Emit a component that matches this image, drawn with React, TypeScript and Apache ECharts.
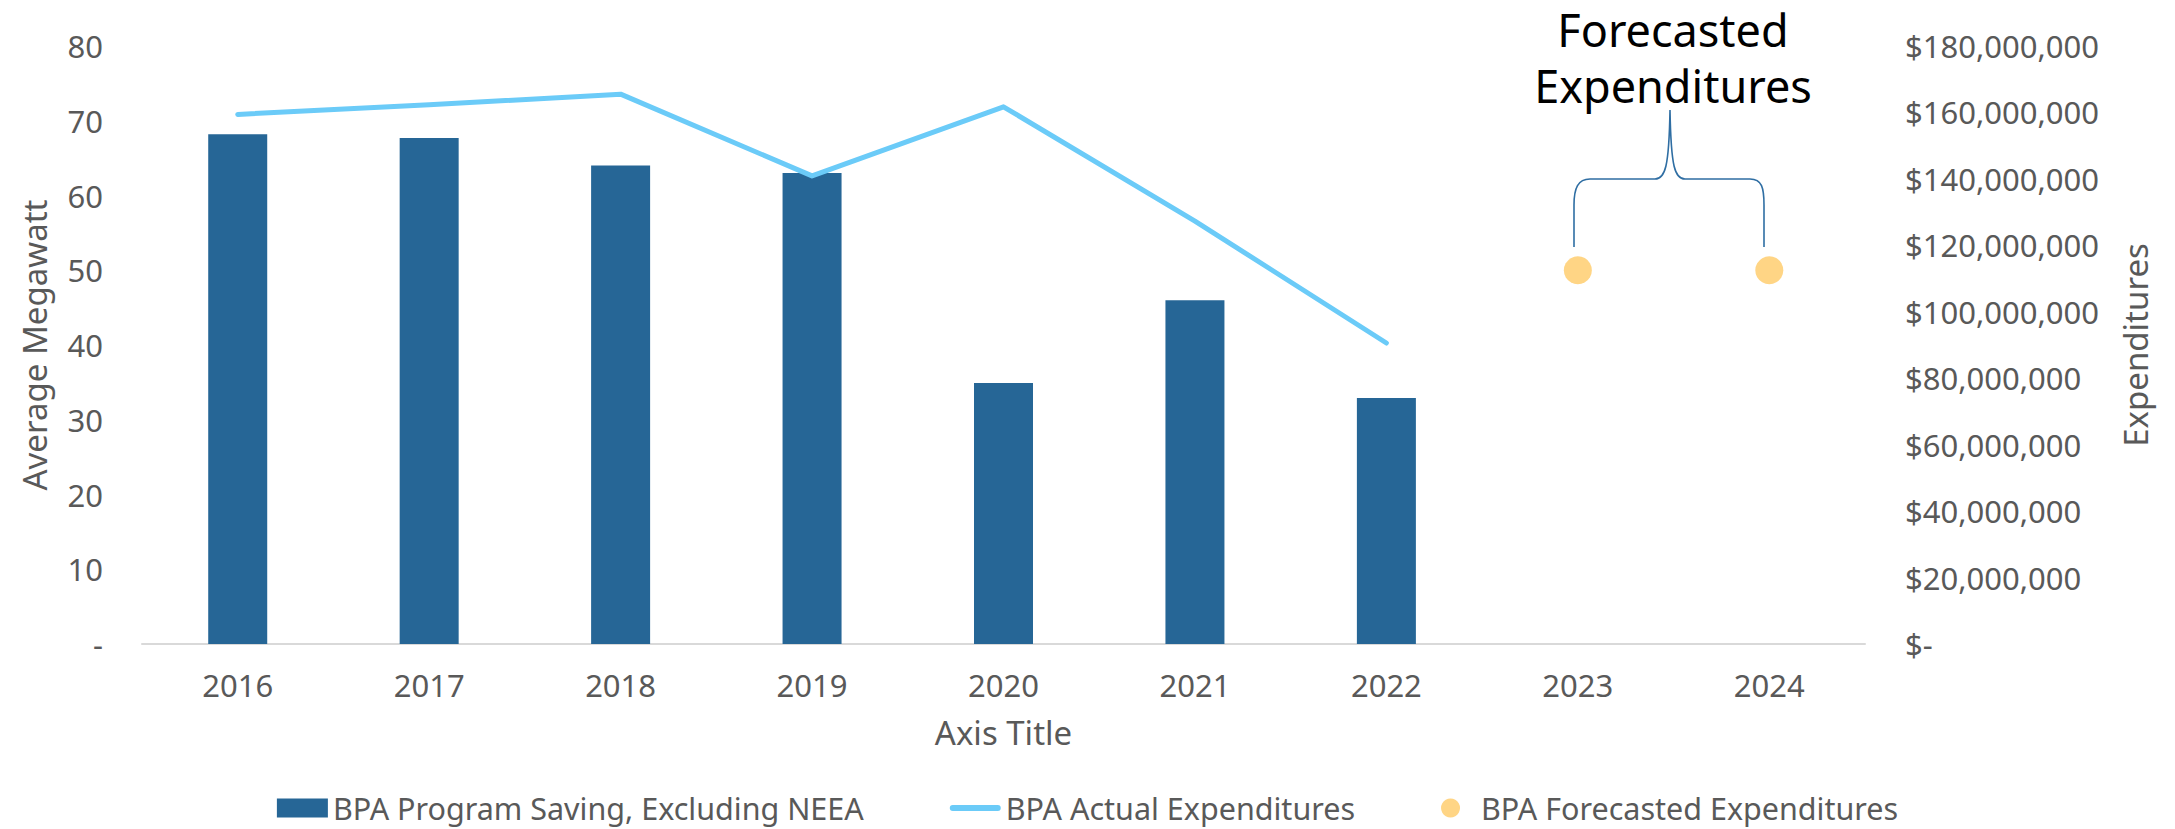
import React, { useEffect, useRef } from 'react';
import * as echarts from 'echarts';

// ---- data ----
const years = ['2016', '2017', '2018', '2019', '2020', '2021', '2022', '2023', '2024'];
const programSavingMW = [68.2, 67.7, 64.0, 63.0, 34.9, 46.0, 32.9, null, null];
const actualExpenditures = [159.4e6, 162.3e6, 165.5e6, 140.9e6, 161.7e6, 127.3e6, 90.6e6, null, null];
const forecastExpenditures = [null, null, null, null, null, null, null, 112.5e6, 112.5e6];
const leftAxisMax = 80;
const leftAxisStep = 10;
const rightAxisMax = 180e6;
const rightAxisStep = 20e6;
const seriesNames = ['BPA Program Saving, Excluding NEEA', 'BPA Actual Expenditures', 'BPA Forecasted Expenditures'];
const annotationLines = ['Forecasted', 'Expenditures'];

const BRACKET_D =
  'M1574 247 L1574 205 C1574 188 1578 179 1590 179 L1655 179 C1665 179 1669 168 1670 110 ' +
  'C1671 168 1675 179 1685 179 L1750 179 C1762 179 1764 188 1764 205 L1764 247';
echarts.graphic.registerShape('bracket', echarts.graphic.extendPath(BRACKET_D, {}));

const FONT = '"Noto Sans", "Open Sans", sans-serif';
const GREY = '#595959';

function fmtMoney(v: number) {
  if (v === 0) return '$-';
  return '$' + Math.round(v).toLocaleString('en-US');
}

export default function App() {
  const ref = useRef<HTMLDivElement>(null);
  useEffect(() => {
    if (!ref.current) return;
    const chart = echarts.init(ref.current, undefined, { renderer: 'svg' });
    chart.setOption({
      animation: false,
      backgroundColor: '#ffffff',
      textStyle: { fontFamily: FONT },
      grid: { left: 142, right: 310, top: 46, bottom: 185, containLabel: false },
      xAxis: {
        type: 'category',
        data: years,
        axisLine: { show: true, lineStyle: { color: '#D9D9D9', width: 2 } },
        axisTick: { show: false },
        axisLabel: { fontSize: 31, color: GREY, margin: 25, fontFamily: FONT },
        name: 'Axis Title',
        nameLocation: 'middle',
        nameGap: 72,
        nameTextStyle: { fontSize: 33, color: GREY, fontFamily: FONT },
      },
      yAxis: [
        {
          type: 'value',
          min: 0,
          max: leftAxisMax,
          interval: leftAxisStep,
          axisLine: { show: false },
          axisTick: { show: false },
          splitLine: { show: false },
          axisLabel: {
            fontSize: 31,
            color: GREY,
            margin: 39,
            fontFamily: FONT,
            formatter: (v: number) => (v === 0 ? '-' : String(v)),
          },
          name: 'Average Megawatt',
          nameLocation: 'middle',
          nameRotate: 90,
          nameGap: 91,
          nameTextStyle: { fontSize: 33, color: GREY, fontFamily: FONT },
        },
        {
          type: 'value',
          min: 0,
          max: rightAxisMax,
          interval: rightAxisStep,
          position: 'right',
          axisLine: { show: false },
          axisTick: { show: false },
          splitLine: { show: false },
          axisLabel: {
            fontSize: 31,
            color: GREY,
            margin: 40,
            fontFamily: FONT,
            formatter: (v: number) => fmtMoney(v),
          },
          name: 'Expenditures',
          nameLocation: 'middle',
          nameRotate: 90,
          nameGap: 254,
          nameTextStyle: { fontSize: 33, color: GREY, fontFamily: FONT },
        },
      ],
      legend: {
        top: 792,
        left: 'center',
        padding: 0,
        itemWidth: 51,
        itemHeight: 19,
        itemGap: 86,
        textStyle: { fontSize: 30.5, lineHeight: 32, color: GREY, fontFamily: FONT },
        data: [
          { name: seriesNames[0], icon: 'rect' },
          { name: seriesNames[1], icon: 'path://M3,0 L48,0 A3,3 0 0 1 48,6 L3,6 A3,3 0 0 1 3,0 Z' },
          { name: seriesNames[2], icon: 'circle' },
        ],
      },
      series: [
        {
          name: seriesNames[0],
          type: 'bar',
          data: programSavingMW,
          barWidth: 59,
          itemStyle: { color: '#266696' },
        },
        {
          name: seriesNames[1],
          type: 'line',
          yAxisIndex: 1,
          data: actualExpenditures,
          symbol: 'none',
          connectNulls: false,
          itemStyle: { color: '#6BCBF8' },
          lineStyle: { color: '#6BCBF8', width: 5, cap: 'round', join: 'round' },
        },
        {
          name: seriesNames[2],
          type: 'scatter',
          yAxisIndex: 1,
          data: forecastExpenditures,
          symbol: 'circle',
          symbolSize: 28,
          itemStyle: { color: '#FFCA66' },
        },
      ],
      graphic: [
        {
          type: 'bracket',
          x: 0,
          y: 0,
          silent: true,
          style: { fill: 'none', stroke: '#2F6EA3', lineWidth: 1.6 },
        },
        {
          type: 'text',
          x: 1673,
          y: 29,
          style: {
            text: annotationLines[0],
            font: `45px ${FONT}`,
            lineHeight: 48,
            fill: '#000000',
            align: 'center',
            verticalAlign: 'middle',
          },
        },
        {
          type: 'text',
          x: 1673,
          y: 85,
          style: {
            text: annotationLines[1],
            font: `45px ${FONT}`,
            lineHeight: 48,
            fill: '#000000',
            align: 'center',
            verticalAlign: 'middle',
          },
        },
      ],
    });
    return () => chart.dispose();
  }, []);
  return (
    <div
      ref={ref}
      style={{ position: 'fixed', left: 0, top: 0, width: 2175, height: 829, background: '#fff' }}
    />
  );
}
